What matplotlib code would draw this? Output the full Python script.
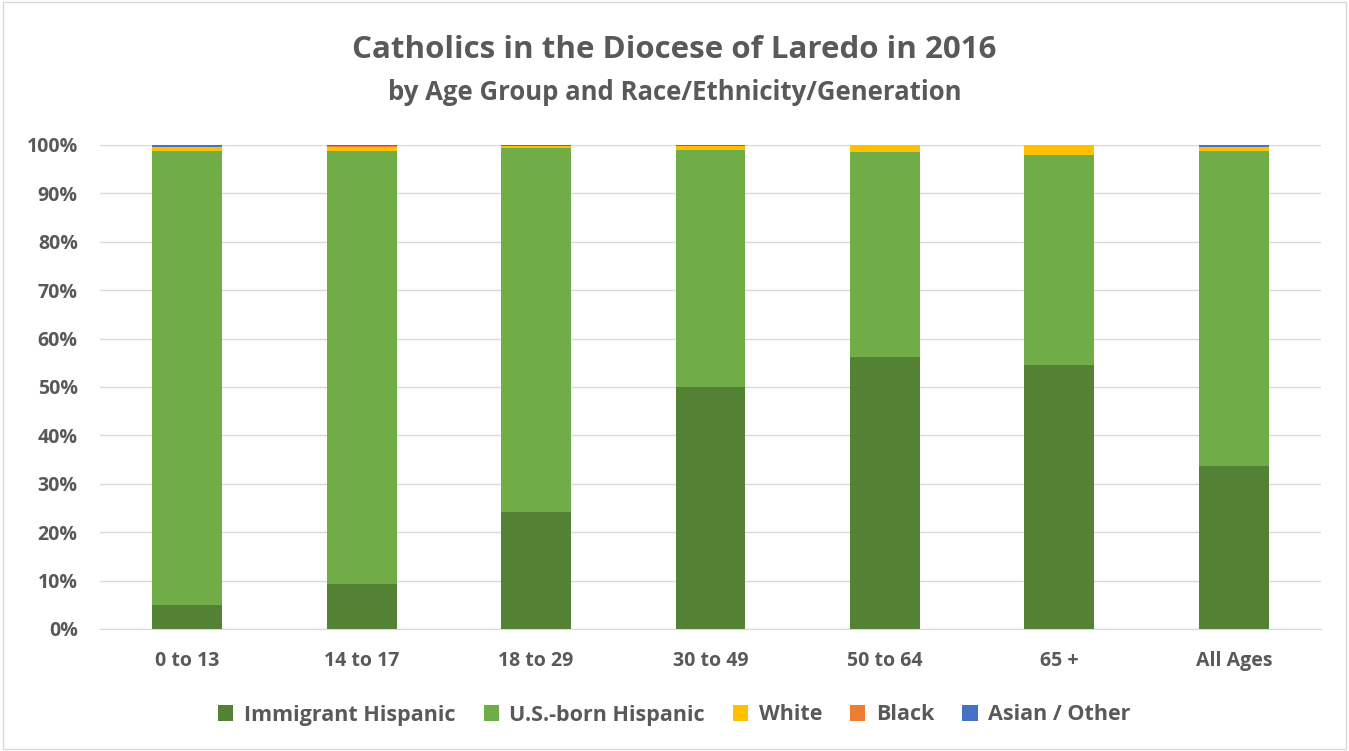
import numpy as np
import matplotlib.pyplot as plt

groups = ['0 to 13', '14 to 17', '18 to 29', '30 to 49', '50 to 64', '65 +', 'All Ages']
immigrant = [5.0, 9.3, 24.2, 50.0, 56.2, 54.5, 33.7]
usborn = [93.8, 89.4, 75.1, 48.9, 42.3, 43.5, 65.0]
white = [0.7, 0.9, 0.4, 0.8, 1.4, 1.9, 0.8]
black = [0.1, 0.1, 0.1, 0.05, 0.05, 0.05, 0.1]
asian = [0.4, 0.3, 0.2, 0.25, 0.05, 0.05, 0.4]

labels = ['Immigrant Hispanic', 'U.S.-born Hispanic', 'White', 'Black', 'Asian / Other']
colors = ['#548235', '#70AD47', '#FFC000', '#ED7D31', '#4472C4']
series = [immigrant, usborn, white, black, asian]

plt.rcParams['font.family'] = ['Open Sans', 'DejaVu Sans']
txt = '#595959'

fig = plt.figure(figsize=(13.49, 7.51), dpi=100)
ax = fig.add_axes([100 / 1349, 1 - 629 / 751, 1221 / 1349, 484 / 751])

x = np.arange(len(groups))
bottom = np.zeros(len(groups))
for vals, lab, col in zip(series, labels, colors):
    ax.bar(x, vals, 0.4, bottom=bottom, color=col, label=lab, zorder=3, clip_on=False, linewidth=0)
    bottom += np.array(vals)

ax.set_xlim(-0.5, len(groups) - 0.5)
ax.set_ylim(0, 100)
ax.set_yticks(np.arange(0, 101, 10))
ax.set_yticklabels([f'{v}%' for v in range(0, 101, 10)])
ax.set_xticks(x)
ax.set_xticklabels(groups)
ax.grid(axis='y', color='#d9d9d9', linewidth=1, zorder=0)
for s in ['top', 'right', 'left']:
    ax.spines[s].set_visible(False)
ax.spines['bottom'].set_color('#d9d9d9')
ax.tick_params(length=0, labelsize=14, colors=txt)
for t in ax.get_xticklabels() + ax.get_yticklabels():
    t.set_fontweight('bold')
ax.tick_params(axis='x', pad=16)
ax.tick_params(axis='y', pad=16)

fig.text(0.5, 1 - 50 / 751, 'Catholics in the Diocese of Laredo in 2016', ha='center', va='center',
         fontsize=22.5, fontweight='bold', color=txt)
fig.text(0.5, 1 - 93 / 751, 'by Age Group and Race/Ethnicity/Generation', ha='center', va='center',
         fontsize=18.5, fontweight='bold', color=txt)

leg = fig.legend(loc='center', bbox_to_anchor=(0.5, 1 - 715 / 751), ncol=5, frameon=False,
                 fontsize=15.5, handlelength=0.7, handleheight=0.7, columnspacing=1.3, handletextpad=0.5)
for t in leg.get_texts():
    t.set_color(txt)
    t.set_fontweight('bold')

fig.patches.append(plt.Rectangle((0.002, 0.002), 0.996, 0.996, transform=fig.transFigure,
                                 fill=False, edgecolor='#d9d9d9', linewidth=1))

fig.savefig('out.png', dpi=100)
